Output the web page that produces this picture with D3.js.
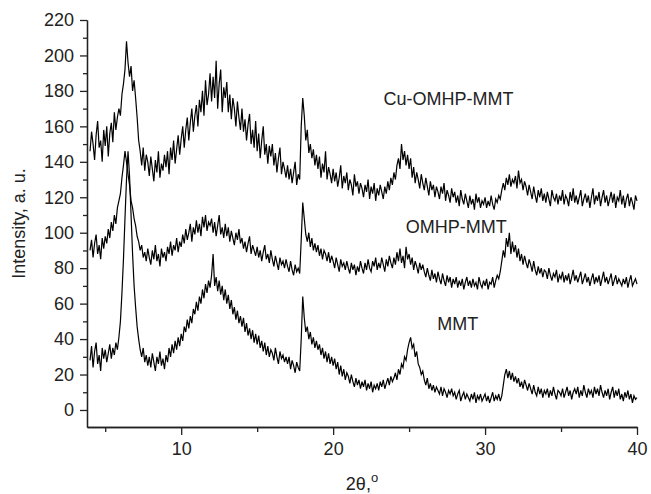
<!DOCTYPE html>
<meta charset="utf-8">
<style>
body {
  margin: 0;
  background: #fff;
  font-family: "Liberation Sans", Arial, Helvetica, sans-serif;
}
.axis text {
  font-size: 18px;
  fill: #222;
}
.axis path, .axis line {
  stroke: #222;
  stroke-width: 1.3;
}
.trace {
  fill: none;
  stroke: #000;
  stroke-width: 1.2;
}
.label {
  font-size: 18px;
  fill: #222;
}
</style>
<body>
<script src="https://d3js.org/d3.v7.min.js"></script>
<script>

var width = 651,
    height = 494;

// scan: 4 - 40 deg 2theta, one reading every 0.1 deg (one row = 1 deg)
var scanStart = 4, scanStep = 0.1;

var cuOmhpMmt = [
  146, 157, 150, 141, 155, 163, 148, 152, 140, 158,
  149, 160, 143, 156, 162, 151, 168, 158, 165, 170,
  166, 178, 184, 192, 208, 196, 188, 194, 180, 186,
  176, 165, 152, 146, 138, 148, 135, 144, 140, 132,
  143, 136, 129, 141, 134, 146, 131, 139, 135, 144,
  137, 146, 133, 148, 141, 152, 139, 147, 155, 144,
  153, 160, 148, 158, 165, 152, 162, 170, 157, 166,
  172, 160, 175, 168, 180, 166, 186, 172, 178, 190,
  174, 188, 176, 197, 170, 184, 192, 168, 182, 176,
  185, 168, 178, 164, 176, 170, 160, 174, 165, 158,
  170, 157, 164, 152, 161, 167, 150, 158, 148, 163,
  146, 156, 142, 152, 160, 144, 150, 139, 149, 143,
  150, 138, 145, 134, 142, 148, 133, 140, 136, 131,
  138, 130, 136, 128, 134, 140, 127, 133, 130, 160,
  176, 166, 152, 158, 145, 150, 142, 147, 138, 144,
  136, 143, 131, 139, 134, 146, 130, 137, 133, 128,
  136, 129, 134, 126, 131, 138, 125, 132, 128, 134,
  124, 130, 127, 121, 133, 126, 129, 122, 128, 125,
  120, 127, 123, 130, 119, 126, 122, 128, 118, 125,
  121, 127, 123, 119, 126, 122, 129, 124, 131, 127,
  134, 130, 138, 142, 136, 150, 141, 146, 138, 144,
  136, 142, 131, 137, 128, 134, 130, 125, 133, 128,
  124, 131, 126, 121, 129, 124, 127, 120, 126, 123,
  119, 126, 122, 128, 118, 124, 121, 117, 125, 120,
  123, 117, 121, 115, 124, 119, 116, 122, 118, 114,
  121, 116, 119, 113, 122, 117, 120, 114, 118, 116,
  120, 114, 118, 115, 121, 116, 113, 119, 117, 121,
  119, 124, 128, 124, 131, 127, 133, 126, 130, 128,
  132, 125, 135, 128, 130, 124, 129, 126, 121, 127,
  123, 119, 126, 121, 117, 124, 120, 125, 118, 122,
  117, 123, 119, 115, 124, 120, 118, 122, 116, 121,
  118, 124, 116, 121, 119, 115, 123, 118, 125, 117,
  121, 116, 120, 124, 115, 119, 122, 117, 121, 114,
  120, 125, 116, 121, 118, 123, 115, 120, 124, 117,
  121, 115, 119, 123, 117, 122, 114, 120, 118, 124,
  116, 121, 114, 119, 122, 115, 120, 117, 113, 121,
  118
];

var omhpMmt = [
  90, 96, 86, 94, 99, 88, 93, 85, 97, 91,
  98, 94, 102, 97, 106, 101, 110, 105, 114, 118,
  122, 131, 138, 146, 140, 133, 127, 118, 114, 108,
  104, 98, 95, 90, 93, 86, 89, 84, 91, 86,
  82, 90, 85, 93, 84, 88, 81, 91, 86, 89,
  84, 92, 88, 95, 87, 93, 90, 97, 89, 95,
  92, 99, 94, 102, 96, 100, 105, 95, 103, 99,
  107, 100, 105, 98, 109, 103, 110, 101, 106, 104,
  108, 100, 106, 98, 104, 110, 99, 103, 97, 105,
  98, 103, 95, 101, 97, 93, 100, 96, 102, 94,
  97, 91, 95, 89, 94, 98, 88, 93, 90, 87,
  92, 86, 90, 84, 89, 93, 85, 88, 83, 90,
  85, 81, 87, 83, 79, 86, 82, 84, 80, 85,
  81, 78, 84, 79, 76, 82, 78, 80, 77, 96,
  117, 108, 99, 95, 100, 92, 97, 90, 94, 89,
  93, 87, 91, 85, 90, 88, 84, 89, 83, 87,
  84, 80, 86, 82, 78, 85, 81, 83, 79, 84,
  80, 77, 83, 79, 82, 76, 81, 78, 84, 80,
  77, 83, 79, 85, 80, 78, 84, 81, 86, 79,
  83, 80, 86, 82, 78, 85, 81, 87, 83, 80,
  86, 82, 89, 84, 91, 83, 87, 80, 92, 85,
  88, 82, 86, 79, 84, 81, 77, 83, 79, 82,
  78, 75, 80, 76, 73, 79, 74, 77, 72, 78,
  74, 71, 77, 73, 70, 76, 72, 75, 69, 74,
  71, 75, 69, 73, 70, 74, 68, 72, 75, 70,
  73, 69, 74, 70, 72, 68, 75, 71, 69, 73,
  70, 74, 68, 72, 71, 75, 69, 73, 76, 74,
  78, 84, 90, 86, 97, 92, 100, 88, 95, 89,
  93, 86, 91, 84, 88, 82, 87, 83, 80, 85,
  82, 78, 84, 79, 76, 81, 77, 80, 75, 79,
  78, 74, 80, 76, 73, 77, 75, 79, 72, 76,
  74, 78, 72, 76, 73, 77, 71, 75, 79, 73,
  76, 72, 75, 78, 71, 74, 77, 72, 75, 70,
  74, 77, 71, 75, 72, 76, 70, 74, 78, 72,
  75, 71, 74, 77, 70, 73, 76, 71, 74, 72,
  70, 74, 71, 75, 69, 73, 76, 70, 72, 74,
  71
];

var mmt = [
  28, 36, 24, 33, 38, 26, 31, 22, 35, 29,
  34, 27, 32, 37, 29, 35, 31, 38, 34, 41,
  50, 66, 85, 108, 130, 146, 132, 110, 88, 70,
  58, 47, 40, 34, 30, 35, 27, 31, 25, 30,
  24, 32, 27, 22, 30, 26, 33, 25, 29, 23,
  31, 27, 35, 30, 37, 32, 39, 34, 41, 36,
  43, 39, 47, 44, 51, 46, 53, 49, 57, 54,
  61, 56, 64, 60, 68, 63, 71, 66, 73, 69,
  76, 88, 70, 75, 67, 73, 65, 70, 62, 68,
  60, 65, 57, 62, 54, 58, 51, 56, 49, 53,
  47, 52, 44, 49, 42, 46, 40, 45, 38, 43,
  37, 42, 35, 39, 33, 38, 31, 36, 30, 34,
  32, 28, 35, 30, 26, 33, 29, 31, 27, 30,
  26, 30, 23, 28, 25, 21, 27, 24, 22, 40,
  64, 52, 44, 47, 40, 44, 37, 41, 35, 39,
  34, 37, 31, 35, 29, 33, 27, 32, 26, 30,
  25, 29, 23, 27, 20, 25, 19, 23, 17, 21,
  19, 15, 20, 16, 13, 18, 14, 17, 12, 16,
  13, 17, 11, 15, 12, 16, 10, 14, 12, 15,
  11, 16, 13, 17, 12, 15, 18, 14, 19, 16,
  18, 21, 17, 23, 20, 26, 24, 30, 28, 34,
  38, 41, 35, 37, 30, 33, 26, 24, 20, 22,
  17, 14, 18, 12, 15, 11, 14, 10, 13, 11,
  9, 13, 8, 12, 10, 7, 11, 9, 12, 8,
  10, 6, 9, 11, 5, 8, 10, 6, 9, 7,
  5, 9, 6, 10, 4, 8, 6, 9, 5, 7,
  9, 5, 8, 4, 7, 10, 5, 8, 6, 9,
  5, 8, 14, 20, 23, 18, 22, 17, 21, 16,
  19, 15, 18, 13, 16, 12, 17, 14, 11, 15,
  12, 9, 14, 10, 8, 13, 9, 12, 7, 11,
  9, 12, 7, 11, 8, 13, 9, 6, 11, 10,
  8, 12, 7, 10, 13, 8, 11, 6, 10, 12,
  9, 13, 7, 11, 8, 14, 10, 7, 12, 9,
  11, 7, 13, 9, 12, 8, 14, 10, 7, 11,
  8, 12, 6, 10, 13, 7, 11, 8, 12, 6,
  9, 5, 10, 7, 11, 6, 9, 4, 8, 6,
  7
];

var seriesNames = ["Cu-OMHP-MMT", "OMHP-MMT", "MMT"];
var seriesValues = [cuOmhpMmt, omhpMmt, mmt];
// where each name sits, in data units
var labelAt = [[27.6, 172], [28.1, 100], [28.2, 45]];

var xMajor = [10, 20, 30, 40],
    xMinor = [5, 15, 25, 35],
    yMajor = d3.range(0, 221, 20),
    yMinor = d3.range(10, 211, 20);

var x = d3.scaleLinear().domain([3.8, 40]).range([87, 637]);
var y = d3.scaleLinear().domain([-9.6, 220]).range([427, 20]);

var svg = d3.select("body").append("svg")
    .attr("width", width)
    .attr("height", height);

var line = d3.line()
    .x(function(d, i) { return x(scanStart + i * scanStep); })
    .y(function(d) { return y(d); });

svg.selectAll(".trace")
    .data(seriesValues)
  .enter().append("path")
    .attr("class", "trace")
    .attr("d", line);

// axes
svg.append("g")
    .attr("class", "axis")
    .attr("transform", "translate(0," + y.range()[0] + ")")
    .call(d3.axisBottom(x).tickValues(xMinor).tickSize(5).tickSizeOuter(0).tickFormat(""));

svg.append("g")
    .attr("class", "axis")
    .attr("transform", "translate(0," + y.range()[0] + ")")
    .call(d3.axisBottom(x).tickValues(xMajor).tickSize(8).tickSizeOuter(0).tickPadding(7));

svg.append("g")
    .attr("class", "axis")
    .attr("transform", "translate(" + x.range()[0] + ",0)")
    .call(d3.axisLeft(y).tickValues(yMinor).tickSize(4).tickSizeOuter(0).tickFormat(""));

svg.append("g")
    .attr("class", "axis")
    .attr("transform", "translate(" + x.range()[0] + ",0)")
    .call(d3.axisLeft(y).tickValues(yMajor).tickSize(7).tickSizeOuter(0).tickPadding(6));

svg.selectAll(".axis .domain").attr("stroke-width", 1.5);

// series names
svg.selectAll(".label")
    .data(seriesNames)
  .enter().append("text")
    .attr("class", "label")
    .attr("x", function(d, i) { return x(labelAt[i][0]); })
    .attr("y", function(d, i) { return y(labelAt[i][1]); })
    .attr("text-anchor", "middle")
    .text(function(d) { return d; });

// axis titles
svg.append("text")
    .attr("class", "label")
    .attr("transform", "translate(25," + ((y.range()[0] + y.range()[1]) / 2) + ") rotate(-90)")
    .attr("text-anchor", "middle")
    .text("Intensity, a. u.");

var xt = svg.append("text")
    .attr("class", "label")
    .attr("x", (x.range()[0] + x.range()[1]) / 2)
    .attr("y", 490)
    .attr("text-anchor", "middle");
xt.append("tspan").text("2θ,");
xt.append("tspan").attr("dy", -8).attr("font-size", "13px").text("o");

</script>
